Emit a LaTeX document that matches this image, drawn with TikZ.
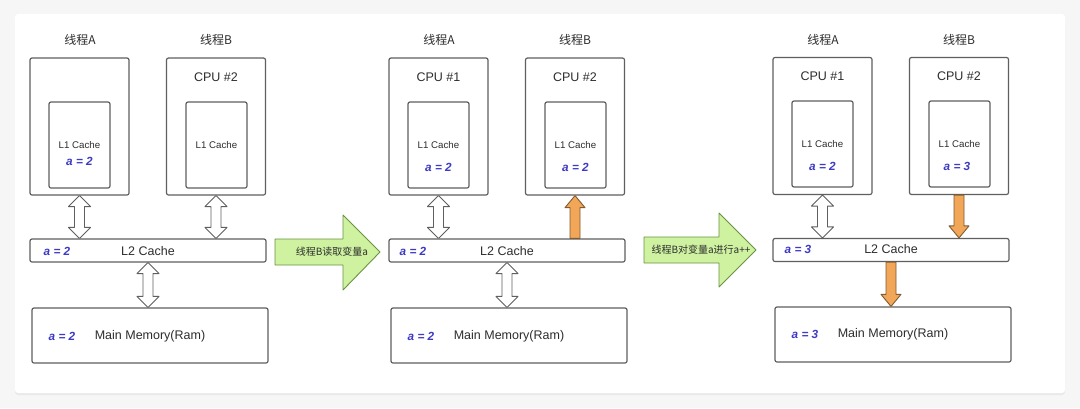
\documentclass[tikz,border=0pt]{standalone}
\usepackage{fontspec}
\setmainfont{Liberation Sans}
\newfontfamily\cjk{Noto Sans CJK SC}
\usetikzlibrary{calc,shadows}

\definecolor{pagegray}{RGB}{246,246,246}
\definecolor{boxline}{RGB}{95,95,95}
\definecolor{valblue}{RGB}{62,58,196}
\definecolor{stepgreen}{RGB}{206,242,160}
\definecolor{stepedge}{RGB}{104,148,64}
\definecolor{hotorange}{RGB}{242,166,88}
\definecolor{hotedge}{RGB}{128,92,52}
\definecolor{txtgray}{RGB}{45,45,45}

% block arrows on one vertical line
\newcommand{\dblarrow}[2]{% #1 upper tip, #2 lower tip
  \draw[coldarrow] (#1) -- ++(11,11) -- ++(-6,0) -- ($(#2)+(5,-11)$) -- ++(6,0) -- (#2)
    -- ++(-11,-11) -- ++(6,0) -- ($(#1)+(-5,11)$) -- ++(-6,0) -- cycle;}
\newcommand{\uparr}[2]{% #1 tip, #2 tail
  \draw[hotarrow] (#1) -- ++(10,12) -- ++(-5,0) -- ($(#2)+(5,0)$) -- ++(-10,0)
    -- ($(#1)+(-5,12)$) -- ++(-5,0) -- cycle;}
\newcommand{\downarr}[2]{% #1 tail, #2 tip
  \draw[hotarrow] (#2) -- ++(10,-12) -- ++(-5,0) -- ($(#1)+(5,0)$) -- ++(-10,0)
    -- ($(#2)+(-5,-12)$) -- ++(-5,0) -- cycle;}

\begin{document}
\begin{tikzpicture}[x=1pt, y=-1pt, line join=round,
  box/.style={draw=boxline, line width=1.2pt, rounded corners=2pt, fill=white, inner sep=0pt},
  cpubox/.style={box, minimum width=99pt, minimum height=137pt},
  lonebox/.style={box, minimum width=61pt, minimum height=86pt},
  ltwobox/.style={box, minimum width=236pt, minimum height=23pt},
  membox/.style={box, minimum width=236pt, minimum height=55pt},
  title/.style={font=\cjk\fontsize{12}{14}\selectfont, text=txtgray},
  big/.style={font=\fontsize{12.5}{14}\selectfont, text=txtgray},
  small/.style={font=\fontsize{9.7}{12}\selectfont, text=txtgray},
  val/.style={font=\bfseries\itshape\fontsize{11.8}{13}\selectfont, text=valblue},
  steptext/.style={font=\cjk\fontsize{10}{12}\selectfont, text=txtgray},
  coldarrow/.style={draw=boxline, line width=0.9pt, fill=white},
  hotarrow/.style={draw=hotedge, line width=0.9pt, fill=hotorange},
  steparrow/.style={draw=stepedge, line width=0.9pt, fill=stepgreen}]
  \useasboundingbox (0,0) rectangle (1080,408);
  \fill[pagegray] (0,0) rectangle (1080,408);
  \fill[white, rounded corners=3pt, drop shadow={shadow xshift=0pt, shadow yshift=-2pt, opacity=0.10}]
    (15,14) rectangle (1065,393);

  % state 1
  \begin{scope}
    \node[title] (tA1) at (80,40) {线程A};
    \node[title] (tB1) at (216,40) {线程B};
    \node[cpubox] (cpuA1) at (79.5,126.5) {};
    \node[cpubox] (cpuB1) at (216,126.5) {};
    \node[big] (nB1) at (216,77) {CPU \#2};
    \node[lonebox] (lA1) at (79.5,145) {};
    \node[lonebox] (lB1) at (216.5,145) {};
    \node[small] (cA1) at (79.5,145) {L1 Cache};
    \node[val] (vA1) at (79.5,161) {a = 2};
    \node[small] (cB1) at (216.5,145) {L1 Cache};
    \node[ltwobox] (ltwo1) at (148,250.5) {};
    \node[val] (vL1) at (57,251) {a = 2};
    \node[big] (cL1) at (148,251) {L2 Cache};
    \node[membox] (mem1) at (150,335.5) {};
    \node[val] (vM1) at (62,336) {a = 2};
    \node[big] (cM1) at (150,336) {Main Memory(Ram)};
    \coordinate (jA1) at (cpuA1.south |- ltwo1.north);
    \coordinate (jB1) at (cpuB1.south |- ltwo1.north);
    \coordinate (jM1) at (ltwo1.south |- mem1.north);
    \dblarrow{cpuA1.south}{jA1}
    \dblarrow{cpuB1.south}{jB1}
    \dblarrow{ltwo1.south}{jM1}
  \end{scope}

  \draw[steparrow] (275,239) -- (343,239) -- (343,215) -- (380,252) -- (343,290) -- (343,265)
    -- (275,265) -- cycle;
  \node[steptext] (go1) at (332,252) {线程B读取变量a};

  % state 2
  \begin{scope}[xshift=359pt]
    \node[title] (tA2) at (80,40) {线程A};
    \node[title] (tB2) at (216,40) {线程B};
    \node[cpubox] (cpuA2) at (79.5,126.5) {};
    \node[cpubox] (cpuB2) at (216,126.5) {};
    \node[big] (nA2) at (79.5,77) {CPU \#1};
    \node[big] (nB2) at (216,77) {CPU \#2};
    \node[lonebox] (lA2) at (79.5,145) {};
    \node[lonebox] (lB2) at (216.5,145) {};
    \node[small] (cA2) at (79.5,145) {L1 Cache};
    \node[val] (vA2) at (79.5,167) {a = 2};
    \node[small] (cB2) at (216.5,145) {L1 Cache};
    \node[val] (vB2) at (216.5,167) {a = 2};
    \node[ltwobox] (ltwo2) at (148,250.5) {};
    \node[val] (vL2) at (54,251) {a = 2};
    \node[big] (cL2) at (148,251) {L2 Cache};
    \node[membox] (mem2) at (150,335.5) {};
    \node[val] (vM2) at (62,336) {a = 2};
    \node[big] (cM2) at (150,336) {Main Memory(Ram)};
    \coordinate (jA2) at (cpuA2.south |- ltwo2.north);
    \coordinate (jB2) at (cpuB2.south |- ltwo2.north);
    \coordinate (jM2) at (ltwo2.south |- mem2.north);
    \dblarrow{cpuA2.south}{jA2}
    \uparr{cpuB2.south}{jB2}
    \dblarrow{ltwo2.south}{jM2}
  \end{scope}

  \draw[steparrow] (644,237) -- (719,237) -- (719,213) -- (756,250) -- (719,287) -- (719,263)
    -- (644,263) -- cycle;
  \node[steptext] (go2) at (701,250) {线程B对变量a进行a++};

  % state 3
  \begin{scope}[xshift=743pt]
    \node[title] (tA3) at (80,40) {线程A};
    \node[title] (tB3) at (216,40) {线程B};
    \node[cpubox] (cpuA3) at (79.5,126) {};
    \node[cpubox] (cpuB3) at (216,126) {};
    \node[big] (nA3) at (79.5,76) {CPU \#1};
    \node[big] (nB3) at (216,76) {CPU \#2};
    \node[lonebox] (lA3) at (79.5,144) {};
    \node[lonebox] (lB3) at (216.5,144) {};
    \node[small] (cA3) at (79.5,144) {L1 Cache};
    \node[val] (vA3) at (79.5,166.5) {a = 2};
    \node[small] (cB3) at (216.5,144) {L1 Cache};
    \node[val] (vB3) at (214,166.5) {a = 3};
    \node[ltwobox] (ltwo3) at (148,250) {};
    \node[val] (vL3) at (55,249.5) {a = 3};
    \node[big] (cL3) at (148,249.5) {L2 Cache};
    \node[membox] (mem3) at (150,334.5) {};
    \node[val] (vM3) at (62,334.5) {a = 3};
    \node[big] (cM3) at (150,334.5) {Main Memory(Ram)};
    \coordinate (jA3) at (cpuA3.south |- ltwo3.north);
    \coordinate (jB3) at (cpuB3.south |- ltwo3.north);
    \coordinate (jM3) at (ltwo3.south |- mem3.north);
    \dblarrow{cpuA3.south}{jA3}
    \downarr{cpuB3.south}{jB3}
    \downarr{ltwo3.south}{jM3}
  \end{scope}
\end{tikzpicture}
\end{document}
